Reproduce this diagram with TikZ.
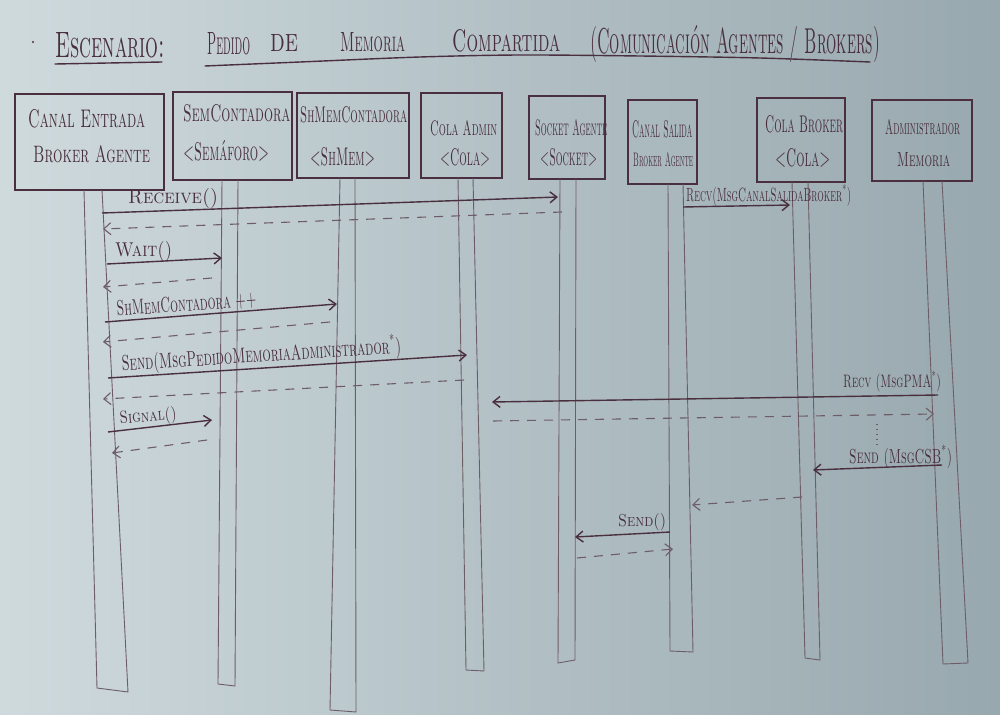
\documentclass[tikz,border=0pt]{standalone}
\usepackage{fontspec}
\usepackage{graphicx}
\usetikzlibrary{arrows.meta}

\definecolor{paperL}{HTML}{CFDADD}
\definecolor{paperM}{HTML}{BDCBCF}
\definecolor{paperR}{HTML}{97A8AE}
\definecolor{ink}{HTML}{4A2F3E}
\definecolor{pencil}{HTML}{6E5D68}

% handwritten-looking label: width, height, text
\newcommand{\hw}[3]{\resizebox{#1pt}{#2pt}{\scshape #3}}

\tikzset{
  objbox/.style={draw=ink, line width=1.4pt, inner sep=0pt},
  txt/.style={inner sep=0pt, anchor=base west, text=ink},
  life/.style={draw=pencil, line width=0.9pt},
  call/.style={draw=ink, line width=1.4pt, -{Straight Barb[length=7pt,width=11pt]}},
  reply/.style={draw=pencil, line width=1.1pt, dash pattern=on 9pt off 8pt,
                -{Straight Barb[length=7pt,width=12pt]}},
  uline/.style={draw=ink, line width=1.4pt, line cap=round},
}

\begin{document}
\begin{tikzpicture}[x=1pt, y=-1pt]
% paper
\shade[left color=paperL, middle color=paperM, right color=paperR]
  (0,0) rectangle (1000,714);
\useasboundingbox (0,0) rectangle (1000,714);

% ---------- title ----------
\fill[ink] (33,42) circle (1.2);
\node[txt] (t0) at (55,58)  {\hw{110}{25}{Escenario:}};
\node[txt] (t1) at (207,55) {\hw{43}{22}{Pedido}};
\node[txt] (t2) at (270,52) {\hw{28}{17}{de}};
\node[txt] (t3) at (340,52) {\hw{65}{19}{Memoria}};
\node[txt] (t4) at (452,52) {\hw{108}{22}{Compartida}};
\node[txt] (t5) at (590,54) {\hw{290}{28}{(Comunicación Agentes / Brokers)}};
\draw[uline] (55,64) -- (162,62);
\draw[uline] plot[smooth] coordinates {(205,66) (300,62) (420,57) (520,55) (640,56) (760,58) (870,62)};

% ---------- participants ----------
\node[objbox, minimum width=149, minimum height=96] (b1) at (89.5,142)  {};
\node[objbox, minimum width=119, minimum height=88] (b2) at (232.5,136) {};
\node[objbox, minimum width=112, minimum height=85] (b3) at (353,135.5) {};
\node[objbox, minimum width=81,  minimum height=85] (b4) at (461.5,135.5) {};
\node[objbox, minimum width=76,  minimum height=83] (b5) at (567,137.5) {};
\node[objbox, minimum width=69,  minimum height=84] (b6) at (662.5,142) {};
\node[objbox, minimum width=88,  minimum height=84] (b7) at (801,140) {};
\node[objbox, minimum width=100, minimum height=81] (b8) at (922,140.5) {};

\node[txt] (b1a) at (28,128)  {\hw{117}{18}{Canal Entrada}};
\node[txt] (b1b) at (33,163)  {\hw{117}{17}{Broker Agente}};
\node[txt] (b2a) at (183,122) {\hw{107}{17}{SemContadora}};
\node[txt] (b2b) at (183,161) {\hw{86}{20}{<Semáforo>}};
\node[txt] (b3a) at (300,123) {\hw{107}{16}{ShMemContadora}};
\node[txt] (b3b) at (310,166) {\hw{65}{18}{<ShMem>}};
\node[txt] (b4a) at (430,136) {\hw{67}{15}{Cola Admin}};
\node[txt] (b4b) at (440,166) {\hw{50}{17}{<Cola>}};
\node[txt] (b5a) at (535,136) {\hw{72}{16}{Socket Agente}};
\node[txt] (b5b) at (540,166) {\hw{57}{17}{<Socket>}};
\node[txt] (b6a) at (632,138) {\hw{60}{17}{Canal Salida}};
\node[txt] (b6b) at (633,167) {\hw{60}{14}{Broker Agente}};
\node[txt] (b7a) at (765,133) {\hw{78}{17}{Cola Broker}};
\node[txt] (b7b) at (775,167) {\hw{55}{18}{<Cola>}};
\node[txt] (b8a) at (885,135) {\hw{75}{15}{Administrador}};
\node[txt] (b8b) at (897,167) {\hw{53}{14}{Memoria}};

% ---------- lifelines ----------
\draw[life] (84,190)  -- (97,688)  -- (128,692) -- (102,190);
\draw[life] (222,180) -- (218,684) -- (235,686) -- (238,180);
\draw[life] (340,178) -- (330,710) -- (356,712) -- (355,178);
\draw[life] (458,178) -- (466,670) -- (484,671) -- (473,178);
\draw[life] (560,179) -- (558,663) -- (575,660) -- (576,179);
\draw[life] (668,184) -- (670,651) -- (693,652) -- (683,184);
\draw[life] (792,182) -- (805,658) -- (820,660) -- (808,182);
\draw[life] (923,181) -- (943,664) -- (968,663) -- (942,181);

% ---------- message end points ----------
\coordinate (m1s) at (102,213); \coordinate (m1e) at (558,197);
\coordinate (r1s) at (562,212); \coordinate (r1e) at (103,229);
\coordinate (m2s) at (107,264); \coordinate (m2e) at (222,258);
\coordinate (r2s) at (212,278); \coordinate (r2e) at (103,287);
\coordinate (m3s) at (105,322); \coordinate (m3e) at (337,304);
\coordinate (r3s) at (330,322); \coordinate (r3e) at (103,342);
\coordinate (m4s) at (108,378); \coordinate (m4e) at (467,355);
\coordinate (r4s) at (464,380); \coordinate (r4e) at (103,399);
\coordinate (m5s) at (108,432); \coordinate (m5e) at (212,420);
\coordinate (r5s) at (207,440); \coordinate (r5e) at (112,453);
\coordinate (m6s) at (683,207); \coordinate (m6e) at (790,205);
\coordinate (m7s) at (938,395); \coordinate (m7e) at (492,402);
\coordinate (r7s) at (493,421); \coordinate (r7e) at (934,414);
\coordinate (d7s) at (877,424); \coordinate (d7e) at (877,448);
\coordinate (m8s) at (942,465); \coordinate (m8e) at (813,470);
\coordinate (r8s) at (802,497); \coordinate (r8e) at (692,505);
\coordinate (m9s) at (670,532); \coordinate (m9e) at (575,537);
\coordinate (r9s) at (577,558); \coordinate (r9e) at (673,549);

% ---------- messages ----------
\draw[call]  (m1s) -- (m1e);
\draw[reply] (r1s) -- (r1e);
\draw[call]  (m2s) -- (m2e);
\draw[reply] (r2s) -- (r2e);
\draw[call]  (m3s) -- (m3e);
\draw[reply] (r3s) -- (r3e);
\draw[call]  (m4s) -- (m4e);
\draw[reply] (r4s) -- (r4e);
\draw[call]  (m5s) -- (m5e);
\draw[reply] (r5s) -- (r5e);
\draw[call]  (m6s) -- (m6e);
\draw[call]  (m7s) -- (m7e);
\draw[reply] (r7s) -- (r7e);
\draw[draw=pencil, line width=1.1pt, dash pattern=on 1pt off 4pt] (d7s) -- (d7e);
\draw[call]  (m8s) -- (m8e);
\draw[reply] (r8s) -- (r8e);
\draw[call]  (m9s) -- (m9e);
\draw[reply] (r9s) -- (r9e);

% ---------- message labels ----------
\node[txt] (l1) at (128,203) {\hw{90}{15}{Receive()}};
\node[txt] (l2) at (115,256) {\hw{57}{15}{Wait()}};
\node[txt, rotate=4] (l3) at (117,316) {\hw{140}{15}{ShMemContadora ++}};
\node[txt, rotate=3.7] (l4) at (122,371) {\hw{280}{19}{Send(MsgPedidoMemoriaAdministrador\textsuperscript{*})}};
\node[txt, rotate=5] (l5) at (120,424) {\hw{57}{13}{Signal()}};
\node[txt] (l6) at (686,201) {\hw{165}{17}{Recv(MsgCanalSalidaBroker\textsuperscript{*})}};
\node[txt] (l7) at (843,387) {\hw{98}{16}{Recv (MsgPMA\textsuperscript{*})}};
\node[txt] (l8) at (849,463) {\hw{103}{18}{Send (MsgCSB\textsuperscript{*})}};
\node[txt] (l9) at (618,526) {\hw{48}{13}{Send()}};
\end{tikzpicture}
\end{document}
